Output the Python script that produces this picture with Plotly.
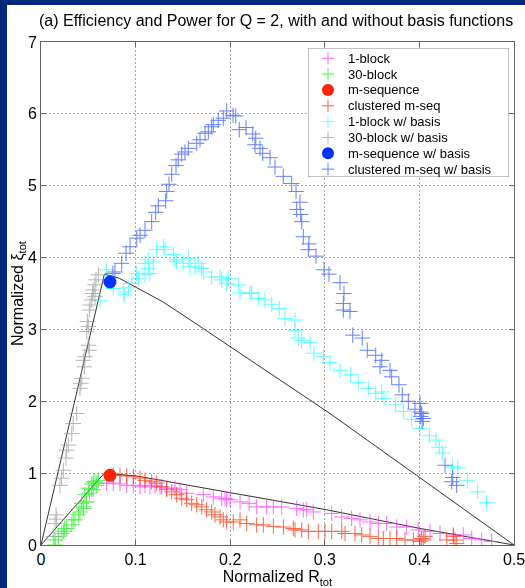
import plotly.graph_objects as go

# ---------------- data (normalized R_tot, normalized xi_tot) ----------------
block1_x = [0.0694, 0.0764, 0.0835, 0.0906, 0.0976, 0.1047, 0.1099, 0.1152, 0.1205, 0.1258,
            0.1329, 0.1416, 0.1469, 0.154, 0.1716, 0.1821, 0.191, 0.1963, 0.1945, 0.2, 0.2104,
            0.22, 0.228, 0.2386, 0.2456, 0.2544, 0.2703, 0.2773, 0.2809, 0.2878, 0.3073, 0.3179,
            0.3284, 0.3372, 0.3478, 0.3566, 0.3654, 0.376, 0.3866, 0.3988, 0.4112, 0.4218,
            0.4358, 0.4464, 0.4553, 0.4659, 0.4764]
block1_y = [0.86, 0.86, 0.85, 0.83, 0.83, 0.81, 0.83, 0.81, 0.83, 0.81,
            0.79, 0.79, 0.77, 0.72, 0.70, 0.67, 0.65, 0.63, 0.65, 0.63, 0.60,
            0.58, 0.53, 0.53, 0.53, 0.53, 0.51, 0.49, 0.49, 0.46, 0.44, 0.39,
            0.37, 0.35, 0.32, 0.30, 0.30, 0.25, 0.25, 0.21, 0.19, 0.16,
            0.14, 0.14, 0.09, 0.07, 0.05]

block30_x = [0.0148, 0.0148, 0.0183, 0.022, 0.0236, 0.025, 0.0271, 0.0325, 0.034, 0.0359,
             0.0395, 0.0412, 0.043, 0.0447, 0.045, 0.0465, 0.048, 0.0483, 0.05, 0.0511,
             0.0536, 0.0536, 0.0553, 0.0553, 0.0571, 0.0589, 0.0589, 0.0606]
block30_y = [0.0, 0.07, 0.12, 0.16, 0.19, 0.23, 0.23, 0.28, 0.35, 0.35,
             0.42, 0.46, 0.58, 0.51, 0.53, 0.70, 0.60, 0.60, 0.79, 0.72,
             0.85, 0.77, 0.77, 0.88, 0.88, 0.86, 0.83, 0.90]

mseq_x = [0.0729]
mseq_y = [0.97]

clust_x = [0.0764, 0.0835, 0.0906, 0.0976, 0.1047, 0.1099, 0.117, 0.1223, 0.1276, 0.1329,
           0.1382, 0.1434, 0.1487, 0.154, 0.1593, 0.1646, 0.1699, 0.1751, 0.1804, 0.1839,
           0.1892, 0.1927, 0.1963, 0.2033, 0.2104, 0.2174, 0.228, 0.235, 0.2456, 0.2562,
           0.2667, 0.2685, 0.2756, 0.2826, 0.2931, 0.3002, 0.3073, 0.3179, 0.3214, 0.3319,
           0.339, 0.3478, 0.3566, 0.3619, 0.3689, 0.376, 0.3848, 0.3936, 0.4024, 0.4041,
           0.4059, 0.4006, 0.4289, 0.4376, 0.4394, 0.4358]
clust_y = [0.97, 0.97, 0.96, 0.95, 0.93, 0.90, 0.88, 0.86, 0.81, 0.77,
           0.74, 0.70, 0.65, 0.63, 0.58, 0.56, 0.53, 0.49, 0.46, 0.42,
           0.39, 0.35, 0.32, 0.32, 0.35, 0.30, 0.28, 0.28, 0.26, 0.25,
           0.23, 0.21, 0.21, 0.19, 0.19, 0.19, 0.19, 0.19, 0.16, 0.16,
           0.14, 0.12, 0.09, 0.09, 0.09, 0.09, 0.07, 0.07, 0.09, 0.07,
           0.12, 0.05, 0.07, 0.07, 0.02, 0.12]

block1b_x = [0.0624, 0.069, 0.0764, 0.087, 0.088, 0.0923, 0.0959, 0.1011, 0.1029, 0.110,
             0.110, 0.1134, 0.1134, 0.115, 0.1187, 0.1223, 0.1293, 0.131, 0.1399, 0.1416,
             0.1434, 0.150, 0.1557, 0.1575, 0.1628, 0.1663, 0.1699, 0.1716, 0.1804, 0.1892,
             0.191, 0.1963, 0.198, 0.2086, 0.2104, 0.2209, 0.2227, 0.2297, 0.2368, 0.2439,
             0.2519, 0.2579, 0.2685, 0.2685, 0.272, 0.2756, 0.2844, 0.2886, 0.2984, 0.3055,
             0.3161, 0.3274, 0.3354, 0.346, 0.3538, 0.3602, 0.3626, 0.3749, 0.383, 0.3918,
             0.4006, 0.4105, 0.4175, 0.4211, 0.4242, 0.4352, 0.4405, 0.4506, 0.4616, 0.471]
block1b_y = [3.40, 3.83, 3.57, 3.52, 3.48, 3.58, 3.64, 3.78, 3.71, 3.76,
             3.92, 3.85, 3.97, 3.78, 3.94, 4.11, 4.15, 4.11, 4.04, 3.97,
             3.94, 3.92, 3.99, 3.87, 3.87, 3.92, 3.85, 3.80, 3.73, 3.73,
             3.69, 3.64, 3.71, 3.62, 3.51, 3.50, 3.51, 3.43, 3.41, 3.35,
             3.29, 3.15, 3.13, 2.98, 2.88, 2.85, 2.82, 2.67, 2.62, 2.54,
             2.43, 2.37, 2.26, 2.18, 2.11, 2.13, 2.04, 1.95, 1.86, 1.75,
             1.62, 1.52, 1.46, 1.36, 1.28, 1.09, 1.07, 0.90, 0.74, 0.59]

block30b_x = [0.013, 0.0148, 0.0159, 0.0166, 0.0201, 0.0218, 0.0236, 0.0264, 0.0271, 0.0289,
              0.0325, 0.0341, 0.0377, 0.0412, 0.042, 0.043, 0.0458, 0.0447, 0.0465, 0.0511,
              0.05, 0.0483, 0.05, 0.049, 0.0511, 0.0518, 0.0536, 0.0571, 0.0546, 0.0553,
              0.0571, 0.0581, 0.0606]
block30b_y = [0.12, 0.30, 0.42, 0.36, 0.83, 0.93, 1.04, 1.21, 1.32, 1.39,
              1.55, 1.69, 1.83, 2.18, 2.25, 2.32, 2.48, 2.57, 2.62, 2.71,
              2.78, 2.97, 3.04, 3.11, 3.27, 3.34, 3.41, 3.46, 3.50, 3.55,
              3.62, 3.69, 3.76]

mseqb_x = [0.0729]
mseqb_y = [3.66]

clustb_x = [0.076, 0.0782, 0.0853, 0.0899, 0.0941, 0.1012, 0.1047, 0.1099, 0.117, 0.1212,
            0.124, 0.1318, 0.1329, 0.1353, 0.1382, 0.1427, 0.1451, 0.1487, 0.1522, 0.1557,
            0.1646, 0.1681, 0.1734, 0.1769, 0.1804, 0.1821, 0.1874, 0.1927, 0.1963, 0.203,
            0.2058, 0.2096, 0.2167, 0.2238, 0.227, 0.2262, 0.2315, 0.2344, 0.2421, 0.2474,
            0.2561, 0.265, 0.2696, 0.2738, 0.2703, 0.2745, 0.2756, 0.2773, 0.2833, 0.2826,
            0.2907, 0.2992, 0.3044, 0.3161, 0.3203, 0.3196, 0.3196, 0.3266, 0.3295, 0.3396,
            0.3449, 0.3538, 0.3602, 0.3584, 0.3689, 0.3707, 0.3784, 0.3819, 0.3883, 0.3953,
            0.4006, 0.4024, 0.4041, 0.4014, 0.401, 0.403, 0.4271, 0.4352, 0.4341, 0.4394]
clustb_y = [3.78, 3.80, 3.92, 4.06, 4.15, 4.27, 4.31, 4.38, 4.50, 4.63,
            4.72, 4.79, 4.92, 5.02, 5.16, 5.28, 5.36, 5.44, 5.47, 5.52,
            5.59, 5.64, 5.73, 5.75, 5.82, 5.85, 5.91, 5.94, 6.04, 5.98,
            5.97, 5.78, 5.81, 5.72, 5.66, 5.57, 5.52, 5.45, 5.39, 5.26,
            5.13, 5.03, 4.92, 4.77, 4.67, 4.60, 4.50, 4.29, 4.19, 4.11,
            4.02, 3.83, 3.77, 3.65, 3.50, 3.36, 3.27, 3.25, 2.92, 2.88,
            2.71, 2.64, 2.57, 2.48, 2.43, 2.34, 2.23, 2.09, 2.00, 1.89,
            1.97, 1.83, 1.76, 1.79, 1.85, 1.72, 1.11, 0.94, 0.88, 0.83]

# theoretical bound curves
bound_hi_x = [0.0, 0.067, 0.083, 0.11, 0.128, 0.149, 0.2, 0.2844, 0.3055, 0.397, 0.418, 0.5]
bound_hi_y = [0.0, 3.77, 3.71, 3.52, 3.39, 3.21, 2.76, 2.02, 1.83, 0.97, 0.77, 0.0]
bound_lo_x = [0.0, 0.067, 0.101, 0.2033, 0.2632, 0.302, 0.4006, 0.4464, 0.5]
bound_lo_y = [0.0, 1.0, 0.96, 0.72, 0.58, 0.49, 0.23, 0.12, 0.0]

x_ticks = [0, 0.1, 0.2, 0.3, 0.4, 0.5]
x_tick_text = ["0", "0.1", "0.2", "0.3", "0.4", "0.5"]
y_ticks = [0, 1, 2, 3, 4, 5, 6, 7]

series_names = ["1-block", "30-block", "m-sequence", "clustered m-seq",
                "1-block w/ basis", "30-block w/ basis", "m-sequence w/ basis",
                "clustered m-seq w/ basis"]
series_x = [block1_x, block30_x, mseq_x, clust_x, block1b_x, block30b_x, mseqb_x, clustb_x]
series_y = [block1_y, block30_y, mseq_y, clust_y, block1b_y, block30b_y, mseqb_y, clustb_y]
series_colors = ["#ff33ff", "#11ee11", "#ff2200", "#ff2a00",
                 "#22ffff", "#999999", "#0033ff", "#2a4dff"]
series_dot = [False, False, True, False, False, False, True, False]

# ---------------- figure ----------------
FONT = "Liberation Sans, Arial, Helvetica, sans-serif"
W, H = 525, 588
L, R, T, B = 41, 11, 42, 43
pw, ph = W - L - R, H - T - B

fig = go.Figure()

for bx, by in ((bound_hi_x, bound_hi_y), (bound_lo_x, bound_lo_y)):
    fig.add_trace(go.Scatter(x=bx, y=by, mode="lines",
                             line=dict(color="#333333", width=1),
                             showlegend=False, hoverinfo="skip"))

for name, xs, ys, col, isdot in zip(series_names, series_x, series_y, series_colors, series_dot):
    if isdot:
        mk = dict(symbol="circle", size=13, color=col, line=dict(width=0))
        op = 1.0
    else:
        mk = dict(symbol="cross-thin", size=11, color=col, line=dict(width=1.0, color=col))
        op = 0.72
    fig.add_trace(go.Scatter(x=xs, y=ys, mode="markers", name=name, opacity=op,
                             marker=mk, showlegend=False))

# ---- legend drawn in an inset axes (box px: x 308..509, y 48..177) ----
LEG_X0, LEG_X1, LEG_Y0, LEG_Y1 = 308, 509, 48, 177
leg_w, leg_h = LEG_X1 - LEG_X0, LEG_Y1 - LEG_Y0
row_first, row_step = 10.3, 15.83
sym_off, txt_off = 20, 38

# legend frame (white box with grey border)
fig.add_trace(go.Scatter(x=[0, leg_w, leg_w, 0, 0], y=[0, 0, leg_h, leg_h, 0],
                         xaxis="x2", yaxis="y2", mode="lines", fill="toself",
                         fillcolor="#ffffff", line=dict(color="#888888", width=1),
                         showlegend=False, hoverinfo="skip"))
for i, (name, col, isdot) in enumerate(zip(series_names, series_colors, series_dot)):
    ry = row_first + i * row_step
    if isdot:
        mk = dict(symbol="circle", size=12, color=col, line=dict(width=0))
        op = 1.0
    else:
        mk = dict(symbol="cross-thin", size=9, color=col, line=dict(width=1.0, color=col))
        op = 0.72
    fig.add_trace(go.Scatter(x=[sym_off], y=[ry], xaxis="x2", yaxis="y2", mode="markers",
                             marker=mk, opacity=op, showlegend=False, hoverinfo="skip"))
    fig.add_annotation(x=txt_off, y=ry, xref="x2", yref="y2", text=name, showarrow=False,
                       xanchor="left", yanchor="middle",
                       font=dict(family=FONT, size=13, color="#000000"))

axis_common = dict(automargin=False, showgrid=True, gridcolor="#a6a6a6", griddash="2px,2px",
                   gridwidth=1, zeroline=False, showline=True, linecolor="#666666",
                   linewidth=1, mirror="allticks", ticks="inside", ticklen=5,
                   tickcolor="#666666", tickfont=dict(size=16), ticklabeloverflow="allow")

fig.update_layout(
    width=W, height=H,
    margin=dict(l=L, r=R, t=T, b=B, pad=0),
    paper_bgcolor="#ffffff", plot_bgcolor="#ffffff",
    font=dict(family=FONT, size=16, color="#000000"),
    title=dict(text="(a) Efficiency and Power for Q = 2, with and without basis functions",
               x=39 / W, xref="container", xanchor="left",
               y=1 - 20 / H, yref="container", yanchor="middle",
               font=dict(family=FONT, size=16, color="#000000")),
    showlegend=False,
    xaxis=dict(range=[0, 0.5], tickvals=x_ticks, ticktext=x_tick_text,
               title=dict(text="Normalized R<sub>tot</sub>", font=dict(size=16), standoff=2),
               **axis_common),
    yaxis=dict(range=[0, 7], tickvals=y_ticks,
               title=dict(text="Normalized ξ<sub>tot</sub>", font=dict(size=16), standoff=0),
               **axis_common),
    xaxis2=dict(domain=[(LEG_X0 - L) / pw, (LEG_X1 - L) / pw], range=[0, leg_w],
                anchor="y2", visible=False, fixedrange=True),
    yaxis2=dict(domain=[(H - B - LEG_Y1) / ph, (H - B - LEG_Y0) / ph], range=[leg_h, 0],
                anchor="x2", visible=False, fixedrange=True),
)

# dark blue page frame (top and left strips)
NAVY = "#00287a"
fig.add_shape(type="rect", xref="paper", yref="paper",
              x0=-L / pw - 0.01, x1=(W - L) / pw + 0.01,
              y0=(H - B - 5) / ph, y1=(H - B) / ph + 0.01,
              fillcolor=NAVY, line=dict(width=0), layer="above")
fig.add_shape(type="rect", xref="paper", yref="paper",
              x0=-L / pw - 0.01, x1=(7 - L) / pw,
              y0=-B / ph - 0.01, y1=(H - B) / ph + 0.01,
              fillcolor=NAVY, line=dict(width=0), layer="above")

fig.write_html("out.html")
